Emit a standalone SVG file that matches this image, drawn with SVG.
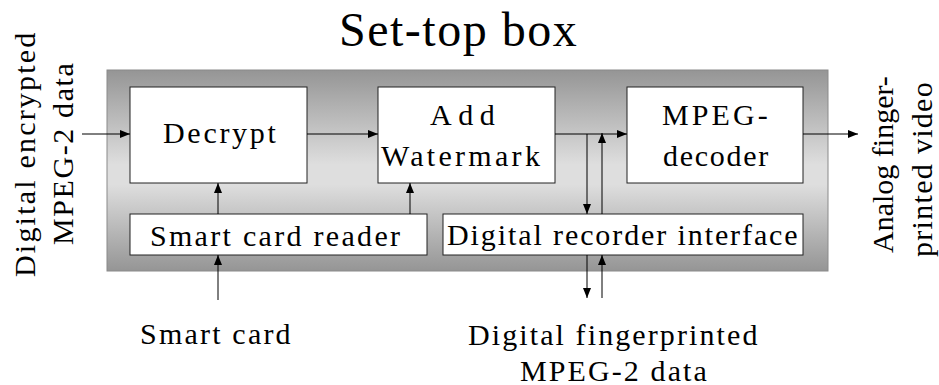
<svg xmlns="http://www.w3.org/2000/svg" width="939" height="385" viewBox="0 0 939 385">
<style>
text{font-family:"Liberation Serif","Tinos","Times New Roman","DejaVu Serif",serif;fill:#000;font-size:30px}
text.title{font-size:48px}
.box{fill:#fff;stroke:#222;stroke-width:1}
.ln{stroke:#000;stroke-width:1;fill:none;marker-end:url(#ah)}
</style>
<defs>
<linearGradient id="g" x1="0" y1="0" x2="0" y2="1">
<stop offset="0" stop-color="#959595"/>
<stop offset="0.47" stop-color="#dedede"/>
<stop offset="0.57" stop-color="#dedede"/>
<stop offset="1" stop-color="#959595"/>
</linearGradient>
<marker id="ah" markerWidth="10" markerHeight="8" refX="10" refY="4" orient="auto" markerUnits="userSpaceOnUse">
<path d="M0,0 L10,4 L0,8 Z" fill="#000"/>
</marker>
</defs>
<text class="title" x="339" y="46" letter-spacing="1.5">Set-top box</text>
<g id="settop"><rect x="107" y="70" width="721" height="201" fill="url(#g)" stroke="#8a8a8a" stroke-width="1"/></g>
<g id="decrypt"><rect class="box" x="130" y="87" width="177" height="96"/><text x="163" y="143" letter-spacing="2.7">Decrypt</text></g>
<g id="watermark"><rect class="box" x="378" y="87" width="177" height="96"/><text x="430" y="125" letter-spacing="6.5">Add</text><text x="381" y="166" letter-spacing="3.3">Watermark</text></g>
<g id="decoder"><rect class="box" x="627" y="87" width="176" height="96"/><text x="662" y="125" letter-spacing="3.1">MPEG-</text><text x="663" y="166" letter-spacing="1.7">decoder</text></g>
<g id="reader"><rect class="box" x="130" y="214" width="297" height="41"/><text x="150" y="246" letter-spacing="2.3">Smart card reader</text></g>
<g id="recorder"><rect class="box" x="443" y="214" width="360" height="41"/><text x="447" y="245" letter-spacing="1.9">Digital recorder interface</text></g>
<g id="input"><text transform="translate(35,277) rotate(-90)" letter-spacing="2.2">Digital encrypted</text><text transform="translate(73,245) rotate(-90)" letter-spacing="1.6">MPEG-2 data</text></g>
<g id="output"><text transform="translate(893,253) rotate(-90)" letter-spacing="0">Analog finger-</text><text transform="translate(932,257) rotate(-90)" letter-spacing="1.3">printed video</text></g>
<g id="smartcard"><text x="140" y="344" letter-spacing="2.2">Smart card</text></g>
<g id="fpdata"><text x="468" y="345" letter-spacing="2.1">Digital fingerprinted</text><text x="520" y="381" letter-spacing="2.1">MPEG-2 data</text></g>
<g id="connectors">
<line class="ln" x1="82" y1="134" x2="130" y2="134"/>
<line class="ln" x1="307" y1="134" x2="378" y2="134"/>
<line class="ln" x1="555" y1="134" x2="627" y2="134"/>
<line class="ln" x1="803" y1="134" x2="858" y2="134"/>
<line class="ln" x1="218" y1="214" x2="218" y2="183"/>
<line class="ln" x1="410" y1="214" x2="410" y2="183"/>
<line class="ln" x1="218" y1="300" x2="218" y2="255"/>
<line class="ln" x1="587" y1="134" x2="587" y2="214"/>
<line class="ln" x1="602" y1="214" x2="602" y2="133"/>
<line class="ln" x1="587" y1="255" x2="587" y2="298"/>
<line class="ln" x1="602" y1="298" x2="602" y2="255"/>
</g>
</svg>
